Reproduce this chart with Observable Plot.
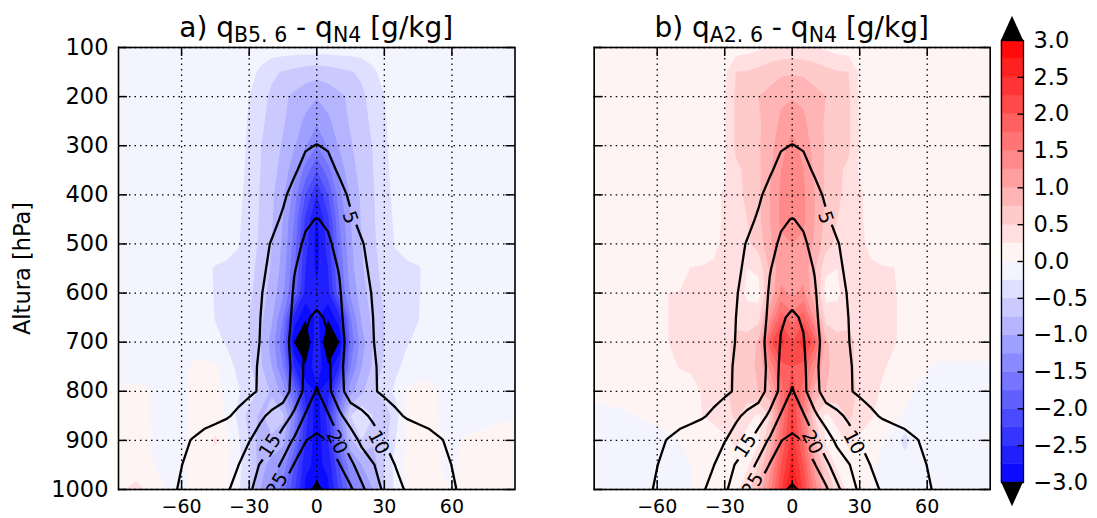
<!DOCTYPE html>
<html>
<head>
<meta charset="utf-8">
<script src="https://cdn.jsdelivr.net/npm/d3@7"></script>
<script src="https://cdn.jsdelivr.net/npm/@observablehq/plot@0.6"></script>
<style>
  body { margin: 0; background: #fff; }
  #fig { position: relative; width: 1097px; height: 518px; font-family: "DejaVu Sans", sans-serif; }
  #fig svg { position: absolute; top: 0; }
  .title { position: absolute; top: 10.7px; font-size: 28px; line-height: 33px; text-align: center; white-space: nowrap; color: #000; }
  .title sub { font-size: 20.5px; vertical-align: -5px; line-height: 0; }
</style>
</head>
<body>
<div id="fig">
  <div class="title" style="left:118px;width:396.5px">a) q<sub>B5. 6</sub> - q<sub>N4</sub> [g/kg]</div>
  <div class="title" style="left:593.7px;width:396px">b) q<sub>A2. 6</sub> - q<sub>N4</sub> [g/kg]</div>
</div>
<script>
// Grid: longitude offset from the centre (degrees) and pressure levels (hPa)
const lon = [-90,-85,-80,-75,-70,-65,-60,-55,-50,-45,-40,-35,-30,-25,-20,-15,-10,-5,0,5,10,15,20,25,30,35,40,45,50,55,60,65,70,75,80,85,90];
const plev = [100,150,200,250,300,350,400,450,500,550,600,650,700,750,800,850,900,950,1000];

// Specific humidity of the N4 run (g/kg), one row per pressure level
const qN4 = [
  [0.2,0.2,0.2,0.2,0.2,0.2,0.2,0.2,0.2,0.2,0.3,0.3,0.3,0.4,0.4,0.5,0.5,0.6, 0.6, 0.6,0.5,0.5,0.4,0.4,0.3,0.3,0.3,0.2,0.2,0.2,0.2,0.2,0.2,0.2,0.2,0.2,0.2],
  [0.3,0.3,0.3,0.3,0.3,0.3,0.3,0.3,0.3,0.4,0.4,0.5,0.6,0.7,0.8,0.9,1.0,1.1, 1.2, 1.1,1.0,0.9,0.8,0.7,0.6,0.5,0.4,0.4,0.3,0.3,0.3,0.3,0.3,0.3,0.3,0.3,0.3],
  [0.4,0.4,0.4,0.4,0.4,0.4,0.5,0.5,0.5,0.6,0.7,0.8,0.9,1.0,1.2,1.5,1.8,2.1, 2.2, 2.1,1.8,1.5,1.2,1.0,0.9,0.8,0.7,0.6,0.5,0.5,0.5,0.4,0.4,0.4,0.4,0.4,0.4],
  [0.5,0.5,0.5,0.5,0.6,0.6,0.6,0.7,0.7,0.8,0.9,1.0,1.2,1.4,1.7,2.1,2.7,3.3, 3.5, 3.3,2.7,2.1,1.7,1.4,1.2,1.0,0.9,0.8,0.7,0.7,0.6,0.6,0.6,0.5,0.5,0.5,0.5],
  [0.6,0.6,0.7,0.7,0.7,0.7,0.8,0.8,0.9,0.9,1.0,1.2,1.4,1.7,2.1,2.7,3.6,4.7, 5.1, 4.7,3.6,2.7,2.1,1.7,1.4,1.2,1.0,0.9,0.9,0.8,0.8,0.7,0.7,0.7,0.7,0.6,0.6],
  [0.8,0.8,0.8,0.9,0.9,0.9,1.0,1.0,1.1,1.2,1.3,1.5,1.7,2.1,2.6,3.4,4.6,6.0, 6.5, 6.0,4.6,3.4,2.6,2.1,1.7,1.5,1.3,1.2,1.1,1.0,1.0,0.9,0.9,0.9,0.8,0.8,0.8],
  [1.0,1.0,1.0,1.1,1.1,1.2,1.2,1.3,1.4,1.5,1.7,1.9,2.2,2.8,3.5,4.5,6.0,7.5, 8.0, 7.5,6.0,4.5,3.5,2.8,2.2,1.9,1.7,1.5,1.4,1.3,1.2,1.2,1.1,1.1,1.0,1.0,1.0],
  [1.1,1.2,1.2,1.3,1.3,1.4,1.5,1.6,1.7,1.8,2.0,2.2,2.6,3.3,4.2,5.4,7.6,9.6, 10.1, 9.6,7.6,5.4,4.2,3.3,2.6,2.2,2.0,1.8,1.7,1.6,1.5,1.4,1.3,1.3,1.2,1.2,1.1],
  [1.2,1.3,1.3,1.4,1.5,1.6,1.7,1.8,1.9,2.0,2.2,2.5,3.0,4.0,5.2,6.6,9.2,10.4, 11.0, 10.4,9.2,6.6,5.2,4.0,3.0,2.5,2.2,2.0,1.9,1.8,1.7,1.6,1.5,1.4,1.3,1.3,1.2],
  [1.4,1.4,1.5,1.6,1.7,1.8,1.9,2.0,2.1,2.3,2.5,2.8,3.3,4.4,5.6,7.0,9.8,11.3, 12.0, 11.3,9.8,7.0,5.6,4.4,3.3,2.8,2.5,2.3,2.1,2.0,1.9,1.8,1.7,1.6,1.5,1.4,1.4],
  [1.5,1.5,1.6,1.7,1.8,1.9,2.0,2.2,2.3,2.5,2.7,3.0,3.6,4.8,6.0,7.5,10.4,12.8, 13.5, 12.8,10.4,7.5,6.0,4.8,3.6,3.0,2.7,2.5,2.3,2.2,2.0,1.9,1.8,1.7,1.6,1.5,1.5],
  [1.6,1.7,1.8,1.9,2.0,2.1,2.2,2.4,2.5,2.7,2.9,3.2,3.8,5.0,6.3,8.0,10.8,14.5, 15.7, 14.5,10.8,8.0,6.3,5.0,3.8,3.2,2.9,2.7,2.5,2.4,2.2,2.1,2.0,1.9,1.8,1.7,1.6],
  [1.7,1.8,1.9,2.0,2.1,2.2,2.3,2.5,2.6,2.8,3.0,3.3,3.9,5.1,6.5,8.3,11.5,15.3, 17.0, 15.3,11.5,8.3,6.5,5.1,3.9,3.3,3.0,2.8,2.6,2.5,2.3,2.2,2.1,2.0,1.9,1.8,1.7],
  [1.8,1.9,2.0,2.1,2.2,2.3,2.4,2.6,2.7,2.9,3.1,3.5,4.1,5.4,6.6,8.0,11.0,16.0, 18.0, 16.0,11.0,8.0,6.6,5.4,4.1,3.5,3.1,2.9,2.7,2.6,2.4,2.3,2.2,2.1,2.0,1.9,1.8],
  [1.8,1.9,2.0,2.2,2.3,2.4,2.5,2.7,2.9,3.1,3.3,3.6,4.1,5.5,6.8,7.8,11.6,16.2, 20.5, 16.2,11.6,7.8,6.8,5.5,4.1,3.6,3.3,3.1,2.9,2.7,2.5,2.4,2.3,2.2,2.0,1.9,1.8],
  [1.9,2.0,2.2,2.4,2.6,2.8,3.0,3.3,3.6,4.0,4.6,5.7,7.8,9.2,11.0,12.5,16.0,20.5, 22.5, 20.5,16.0,12.5,11.0,9.2,7.8,5.7,4.6,4.0,3.6,3.3,3.0,2.8,2.6,2.4,2.2,2.0,1.9],
  [2.0,2.2,2.4,2.7,3.1,3.6,4.3,5.2,6.2,7.0,7.8,8.6,9.8,12.0,13.8,17.6,20.6,24.9, 26.0, 24.9,20.6,17.6,13.8,12.0,9.8,8.6,7.8,7.0,6.2,5.2,4.3,3.6,3.1,2.7,2.4,2.2,2.0],
  [2.2,2.4,2.7,3.1,3.5,4.1,4.95,6.0,6.9,7.7,8.6,9.8,13.0,15.3,18.0,20.9,25.3,26.2, 27.0, 26.2,25.3,20.9,18.0,15.3,13.0,9.8,8.6,7.7,6.9,6.0,4.95,4.1,3.5,3.1,2.7,2.4,2.2],
  [2.4,2.6,2.9,3.3,3.8,4.4,5.4,6.3,7.2,8.2,9.3,12.0,14.0,17.8,20.8,25.9,27.6,29.0, 30.8, 29.0,27.6,25.9,20.8,17.8,14.0,12.0,9.3,8.2,7.2,6.3,5.4,4.4,3.8,3.3,2.9,2.6,2.4]
];

// Difference B5.6 minus N4 (g/kg)
const diffB56 = [
  [-0.1,-0.1,-0.1,-0.1,-0.1,-0.1,-0.1,-0.1,-0.1,-0.1,-0.1,-0.1,-0.1,-0.1,-0.1,-0.1,-0.1,-0.1, -0.1, -0.1,-0.1,-0.1,-0.1,-0.1,-0.1,-0.1,-0.1,-0.1,-0.1,-0.1,-0.1,-0.1,-0.1,-0.1,-0.1,-0.1,-0.1],
  [-0.1,-0.1,-0.1,-0.1,-0.1,-0.1,-0.1,-0.1,-0.1,-0.1,-0.1,-0.1,-0.15,-0.3,-0.45,-0.52,-0.57,-0.62, -0.65, -0.62,-0.57,-0.52,-0.45,-0.3,-0.15,-0.1,-0.1,-0.1,-0.1,-0.1,-0.1,-0.1,-0.1,-0.1,-0.1,-0.1,-0.1],
  [-0.1,-0.1,-0.1,-0.1,-0.1,-0.1,-0.1,-0.1,-0.1,-0.1,-0.1,-0.12,-0.25,-0.4,-0.55,-0.7,-0.8,-0.9, -0.98, -0.9,-0.8,-0.7,-0.55,-0.4,-0.25,-0.12,-0.1,-0.1,-0.1,-0.1,-0.1,-0.1,-0.1,-0.1,-0.1,-0.1,-0.1],
  [-0.1,-0.1,-0.1,-0.1,-0.1,-0.1,-0.1,-0.1,-0.1,-0.1,-0.1,-0.13,-0.28,-0.45,-0.58,-0.72,-0.87,-1.05, -1.2, -1.05,-0.87,-0.72,-0.58,-0.45,-0.28,-0.13,-0.1,-0.1,-0.1,-0.1,-0.1,-0.1,-0.1,-0.1,-0.1,-0.1,-0.1],
  [-0.1,-0.1,-0.1,-0.1,-0.1,-0.1,-0.1,-0.1,-0.1,-0.1,-0.1,-0.14,-0.3,-0.49,-0.62,-0.78,-0.97,-1.22, -1.5, -1.22,-0.97,-0.78,-0.62,-0.49,-0.3,-0.14,-0.1,-0.1,-0.1,-0.1,-0.1,-0.1,-0.1,-0.1,-0.1,-0.1,-0.1],
  [-0.1,-0.1,-0.1,-0.1,-0.1,-0.1,-0.1,-0.1,-0.1,-0.1,-0.1,-0.15,-0.32,-0.5,-0.65,-0.85,-1.15,-1.6, -2.0, -1.6,-1.15,-0.85,-0.65,-0.5,-0.32,-0.15,-0.1,-0.1,-0.1,-0.1,-0.1,-0.1,-0.1,-0.1,-0.1,-0.1,-0.1],
  [-0.1,-0.1,-0.1,-0.1,-0.1,-0.1,-0.1,-0.1,-0.1,-0.1,-0.1,-0.18,-0.34,-0.52,-0.7,-0.95,-1.35,-2.0, -2.5, -2.0,-1.35,-0.95,-0.7,-0.52,-0.34,-0.18,-0.1,-0.1,-0.1,-0.1,-0.1,-0.1,-0.1,-0.1,-0.1,-0.1,-0.1],
  [-0.1,-0.1,-0.1,-0.1,-0.1,-0.1,-0.1,-0.1,-0.1,-0.1,-0.12,-0.21,-0.35,-0.53,-0.72,-1.0,-1.5,-2.3, -2.8, -2.3,-1.5,-1.0,-0.72,-0.53,-0.35,-0.21,-0.12,-0.1,-0.1,-0.1,-0.1,-0.1,-0.1,-0.1,-0.1,-0.1,-0.1],
  [-0.1,-0.1,-0.1,-0.1,-0.1,-0.1,-0.1,-0.1,-0.1,-0.1,-0.15,-0.23,-0.37,-0.55,-0.75,-1.05,-1.6,-2.4, -2.85, -2.4,-1.6,-1.05,-0.75,-0.55,-0.37,-0.23,-0.15,-0.1,-0.1,-0.1,-0.1,-0.1,-0.1,-0.1,-0.1,-0.1,-0.1],
  [-0.1,-0.1,-0.1,-0.1,-0.1,-0.1,-0.1,-0.1,-0.18,-0.27,-0.3,-0.33,-0.42,-0.58,-0.78,-1.1,-1.7,-2.5, -2.8, -2.5,-1.7,-1.1,-0.78,-0.58,-0.42,-0.33,-0.3,-0.27,-0.18,-0.1,-0.1,-0.1,-0.1,-0.1,-0.1,-0.1,-0.1],
  [-0.1,-0.1,-0.1,-0.1,-0.1,-0.1,-0.1,-0.1,-0.15,-0.27,-0.3,-0.35,-0.45,-0.62,-0.85,-1.2,-1.8,-2.6, -2.7, -2.6,-1.8,-1.2,-0.85,-0.62,-0.45,-0.35,-0.3,-0.27,-0.15,-0.1,-0.1,-0.1,-0.1,-0.1,-0.1,-0.1,-0.1],
  [-0.1,-0.1,-0.1,-0.1,-0.1,-0.1,-0.1,-0.1,-0.14,-0.26,-0.3,-0.38,-0.5,-0.68,-0.95,-1.5,-2.6,-2.95, -2.7, -2.95,-2.6,-1.5,-0.95,-0.68,-0.5,-0.38,-0.3,-0.26,-0.14,-0.1,-0.1,-0.1,-0.1,-0.1,-0.1,-0.1,-0.1],
  [-0.1,-0.1,-0.1,-0.1,-0.1,-0.1,-0.1,-0.1,-0.12,-0.2,-0.27,-0.35,-0.5,-0.75,-1.1,-1.7,-3.0,-3.4, -2.5, -3.4,-3.0,-1.7,-1.1,-0.75,-0.5,-0.35,-0.27,-0.2,-0.12,-0.1,-0.1,-0.1,-0.1,-0.1,-0.1,-0.1,-0.1],
  [-0.1,-0.1,-0.1,-0.1,-0.1,-0.1,-0.05,0.03,0.05,0.03,-0.15,-0.3,-0.45,-0.7,-1.0,-1.5,-2.5,-2.95, -2.6, -2.95,-2.5,-1.5,-1.0,-0.7,-0.45,-0.3,-0.18,-0.1,-0.08,-0.1,-0.1,-0.1,-0.1,-0.1,-0.1,-0.1,-0.1],
  [0.06,0.05,0.04,0.01,-0.08,-0.1,-0.05,0.05,0.08,0.07,-0.05,-0.22,-0.35,-0.55,-0.8,-1.1,-1.8,-2.6, -2.8, -2.6,-1.8,-1.1,-0.8,-0.55,-0.35,-0.2,0.03,0.07,0.06,-0.02,-0.1,-0.1,-0.1,-0.1,-0.1,-0.1,-0.1],
  [0.06,0.06,0.05,0.02,-0.08,-0.1,-0.05,0.05,0.08,0.07,-0.03,-0.3,-0.6,-0.8,-0.6,-0.7,-1.4,-2.4, -2.9, -2.4,-1.4,-0.5,-0.3,-0.5,-0.7,-0.35,0.03,0.08,0.07,-0.02,-0.1,-0.1,-0.1,-0.08,-0.05,-0.03,-0.02],
  [0.08,0.07,0.05,0.02,-0.05,-0.08,-0.05,0.05,0.1,0.3,0.05,-0.2,-0.5,-0.9,-0.8,-0.9,-1.6,-2.5, -2.9, -2.5,-1.6,-0.8,-0.5,-0.7,-0.6,-0.25,0.03,0.08,0.08,0.02,-0.05,0.02,0.06,0.08,0.1,0.1,0.1],
  [0.1,0.08,0.06,0.03,-0.03,-0.05,-0.03,0.05,0.1,0.1,0.04,-0.15,-0.45,-0.9,-1.1,-1.3,-2.0,-2.7, -2.8, -2.7,-2.0,-1.3,-1.0,-0.9,-0.5,-0.15,0.04,0.08,0.06,0.0,-0.03,0.04,0.08,0.1,0.12,0.12,0.12],
  [0.15,0.25,0.35,0.2,0.05,-0.03,-0.05,0.03,0.08,0.08,0.03,-0.2,-0.5,-1.0,-1.3,-1.6,-2.2,-2.8, -3.15, -2.8,-2.2,-1.6,-1.3,-1.0,-0.5,-0.2,0.03,0.08,0.08,0.05,-0.02,0.05,0.1,0.12,0.12,0.12,0.12]
];

// Difference A2.6 minus N4 (g/kg)
const diffA26 = [
  [0.1,0.1,0.1,0.1,0.1,0.1,0.1,0.1,0.1,0.1,0.1,0.1,0.1,0.12,0.15,0.2,0.27,0.3, 0.32, 0.3,0.27,0.2,0.15,0.12,0.1,0.1,0.1,0.1,0.1,0.1,0.1,0.1,0.1,0.1,0.1,0.1,0.1],
  [0.1,0.1,0.1,0.1,0.1,0.1,0.1,0.1,0.1,0.1,0.1,0.1,0.2,0.5,0.52,0.58,0.65,0.7, 0.72, 0.7,0.65,0.58,0.52,0.5,0.2,0.1,0.1,0.1,0.1,0.1,0.1,0.1,0.1,0.1,0.1,0.1,0.1],
  [0.1,0.1,0.1,0.1,0.1,0.1,0.1,0.1,0.1,0.1,0.1,0.1,0.22,0.55,0.62,0.75,0.82,0.95, 0.98, 0.95,0.82,0.75,0.62,0.55,0.22,0.1,0.1,0.1,0.1,0.1,0.1,0.1,0.1,0.1,0.1,0.1,0.1],
  [0.1,0.1,0.1,0.1,0.1,0.1,0.1,0.1,0.1,0.1,0.1,0.1,0.22,0.55,0.6,0.72,0.85,1.05, 1.15, 1.05,0.85,0.72,0.6,0.55,0.22,0.1,0.1,0.1,0.1,0.1,0.1,0.1,0.1,0.1,0.1,0.1,0.1],
  [0.1,0.1,0.1,0.1,0.1,0.1,0.1,0.1,0.1,0.1,0.1,0.1,0.23,0.55,0.6,0.72,0.9,1.15, 1.35, 1.15,0.9,0.72,0.6,0.55,0.23,0.1,0.1,0.1,0.1,0.1,0.1,0.1,0.1,0.1,0.1,0.1,0.1],
  [0.1,0.1,0.1,0.1,0.1,0.1,0.1,0.1,0.1,0.1,0.1,0.1,0.22,0.45,0.55,0.7,0.95,1.25, 1.45, 1.25,0.95,0.7,0.55,0.45,0.22,0.1,0.1,0.1,0.1,0.1,0.1,0.1,0.1,0.1,0.1,0.1,0.1],
  [0.1,0.1,0.1,0.1,0.1,0.1,0.1,0.1,0.1,0.1,0.1,0.18,0.28,0.42,0.55,0.7,1.0,1.3, 1.45, 1.3,1.0,0.7,0.55,0.42,0.28,0.18,0.1,0.1,0.1,0.1,0.1,0.1,0.1,0.1,0.1,0.1,0.1],
  [0.1,0.1,0.1,0.1,0.1,0.1,0.1,0.1,0.1,0.1,0.12,0.18,0.28,0.4,0.5,0.68,1.0,1.3, 1.4, 1.3,1.0,0.68,0.5,0.4,0.28,0.18,0.12,0.1,0.1,0.1,0.1,0.1,0.1,0.1,0.1,0.1,0.1],
  [0.1,0.1,0.1,0.1,0.1,0.1,0.1,0.1,0.1,0.1,0.12,0.2,0.3,0.38,0.45,0.6,0.95,1.2, 1.25, 1.2,0.95,0.6,0.45,0.38,0.3,0.2,0.12,0.1,0.1,0.1,0.1,0.1,0.1,0.1,0.1,0.1,0.1],
  [0.1,0.1,0.1,0.1,0.1,0.1,0.1,0.1,0.15,0.26,0.27,0.28,0.32,0.38,0.25,0.3,0.8,1.15, 1.15, 1.15,0.8,0.3,0.25,0.38,0.32,0.28,0.27,0.26,0.15,0.1,0.1,0.1,0.1,0.1,0.1,0.1,0.1],
  [0.1,0.1,0.1,0.1,0.1,0.1,0.15,0.25,0.26,0.27,0.28,0.3,0.33,0.38,0.2,0.15,0.8,1.3, 1.2, 1.3,0.8,0.15,0.2,0.38,0.33,0.3,0.28,0.27,0.2,0.12,0.1,0.1,0.1,0.1,0.1,0.1,0.1],
  [0.1,0.1,0.1,0.1,0.1,0.1,0.15,0.25,0.26,0.27,0.28,0.32,0.38,0.45,0.35,0.4,1.2,1.9, 1.6, 1.9,1.2,0.4,0.35,0.45,0.38,0.32,0.28,0.27,0.2,0.12,0.1,0.1,0.1,0.1,0.1,0.1,0.1],
  [0.1,0.1,0.1,0.1,0.1,0.1,0.15,0.25,0.26,0.27,0.3,0.35,0.45,0.55,0.6,0.8,1.9,2.4, 2.0, 2.4,1.9,0.8,0.6,0.55,0.45,0.35,0.3,0.27,0.2,0.12,0.1,0.1,0.1,0.1,0.1,0.1,0.1],
  [0.08,0.08,0.08,0.08,0.08,0.08,0.12,0.2,0.26,0.27,0.28,0.35,0.45,0.55,0.65,0.8,1.3,1.9, 2.0, 1.9,1.3,0.8,0.65,0.55,0.45,0.35,0.28,0.2,0.12,0.05,0.02,-0.03,-0.03,-0.03,-0.03,-0.03,-0.03],
  [0.05,0.05,0.05,0.05,0.05,0.04,0.05,0.08,0.12,0.2,0.26,0.32,0.45,0.6,0.65,0.75,0.9,1.6, 2.2, 1.6,0.9,0.75,0.65,0.6,0.45,0.32,0.22,0.12,0.05,-0.02,-0.05,-0.05,-0.05,-0.05,-0.05,-0.05,-0.05],
  [-0.05,-0.05,-0.03,-0.02,0.0,0.03,0.05,0.08,0.1,0.15,0.25,0.3,0.4,0.55,0.35,0.2,0.5,1.5, 2.3, 1.5,0.5,0.2,0.35,0.55,0.4,0.28,0.15,0.05,-0.02,-0.05,-0.08,-0.08,-0.08,-0.08,-0.08,-0.08,-0.08],
  [-0.08,-0.08,-0.08,-0.08,-0.08,-0.08,-0.05,-0.03,0.0,0.04,0.1,0.15,0.2,0.3,0.15,0.2,0.8,1.7, 2.4, 1.7,0.8,0.2,0.15,0.3,0.2,0.1,0.0,-0.1,-0.35,-0.12,-0.08,-0.08,-0.08,-0.08,-0.08,-0.08,-0.08],
  [-0.08,-0.08,-0.08,-0.08,-0.08,-0.08,-0.06,-0.05,-0.03,0.0,0.03,0.06,0.1,0.15,0.2,0.5,1.1,2.0, 2.6, 2.0,1.1,0.5,0.2,0.15,0.08,0.03,-0.03,-0.08,-0.12,-0.1,-0.08,-0.08,-0.08,-0.08,-0.08,-0.08,-0.08],
  [-0.08,-0.08,-0.08,-0.08,-0.08,-0.08,-0.06,-0.05,-0.03,0.0,0.03,0.05,0.08,0.2,0.4,0.8,1.4,2.2, 2.9, 2.2,1.4,0.8,0.4,0.2,0.08,0.02,-0.05,-0.1,-0.1,-0.1,-0.08,-0.08,-0.08,-0.08,-0.08,-0.08,-0.08]
];

// Contour levels
const fillLevels = [-3,-2.75,-2.5,-2.25,-2,-1.75,-1.5,-1.25,-1,-0.75,-0.5,-0.25,0,0.25,0.5,0.75,1,1.25,1.5,1.75,2,2.25,2.5,2.75,3];
const qLevels = [5, 10, 15, 20, 25, 30];

// Axis ticks
const lonTicks = [-60, -30, 0, 30, 60];
const presTicks = [100, 200, 300, 400, 500, 600, 700, 800, 900, 1000];
const barTicks = [-3, -2.5, -2, -1.5, -1, -0.5, 0, 0.5, 1, 1.5, 2, 2.5, 3];

// Inline labels of the N4 humidity contours
const labelLon = [14.8, 27.4, 8.9, -20.7, -17.5];
const labelPres = [446, 904, 904, 911, 990];
const labelText = ["5", "10", "20", "15", "25"];
const labelAngle = [71, 62, 63, -57, -60];

for (const [name, rows] of [["qN4", qN4], ["diffB56", diffB56], ["diffA26", diffA26]]) {
  if (rows.length !== plev.length) throw new Error(name + ": wrong number of rows");
  rows.forEach((r, j) => { if (r.length !== lon.length) throw new Error(name + " row " + plev[j] + ": " + r.length); });
}

// Blue-white-red colour map sampled at the middle of each band; black outside +-3
function bwr(t) {
  const c = t < 0.5 ? [2 * t, 2 * t, 1] : [1, 2 - 2 * t, 2 - 2 * t];
  return d3.rgb(c[0] * 255, c[1] * 255, c[2] * 255).formatHex();
}
const bandColors = fillLevels.slice(0, -1).map((lo, i) => bwr(((lo + fillLevels[i + 1]) / 2 + 3) / 6));
const colorOpts = {type: "threshold", domain: fillLevels, range: ["black", ...bandColors, "black"]};

const dLon = lon[1] - lon[0], dP = plev[1] - plev[0];
const gridBounds = {
  width: lon.length, height: plev.length,
  x1: lon[0] - dLon / 2, x2: lon[lon.length - 1] + dLon / 2,
  y1: plev[0] - dP / 2, y2: plev[plev.length - 1] + dP / 2
};

const minus = (s) => s.replace("-", "\u2212");
const fmtLon = (d) => minus(String(d));
const fmtBar = (d) => minus(d.toFixed(1));

const fig = document.getElementById("fig");
const TOP = 47, BOTTOM = 29, H = 518;

function panel(rows, {left, width, marginLeft, marginRight, showY, id}) {
  const fw = width - marginLeft - marginRight;
  const fh = H - TOP - BOTTOM;
  const rule = {stroke: "black", strokeWidth: 1.5};
  const svg = Plot.plot({
    width, height: H, marginLeft, marginRight, marginTop: TOP, marginBottom: BOTTOM,
    style: {fontFamily: "DejaVu Sans", background: "transparent", color: "black", overflow: "visible"},
    x: {domain: [-88, 88], axis: null},
    y: {domain: [100, 1000], reverse: true, axis: null},
    color: colorOpts,
    marks: [
      Plot.contour(rows.flat(), {...gridBounds, fill: Plot.identity, stroke: "none", thresholds: [-99, ...fillLevels], clip: true}),
      Plot.gridX(lonTicks, {stroke: "black", strokeOpacity: 1, strokeWidth: 1.3, strokeDasharray: "1.5,4"}),
      Plot.gridY(presTicks, {stroke: "black", strokeOpacity: 1, strokeWidth: 1.3, strokeDasharray: "1.5,4"}),
      Plot.contour(qN4.flat(), {...gridBounds, value: (d) => d, thresholds: qLevels, stroke: "black", strokeWidth: 2.3, fill: "none", clip: true}),
      Plot.text(labelText.map((_, i) => i), {
        x: (i) => labelLon[i], y: (i) => labelPres[i], text: (i) => labelText[i], rotate: (i) => labelAngle[i],
        fontSize: 19, fill: "black", clip: true
      }),
      Plot.tickX(lonTicks, {x: (d) => d, insetBottom: fh - 9, ...rule}),
      Plot.tickX(lonTicks, {x: (d) => d, insetTop: fh - 9, ...rule}),
      Plot.tickY(presTicks, {y: (d) => d, insetRight: fw - 9, ...rule}),
      Plot.tickY(presTicks, {y: (d) => d, insetLeft: fw - 9, ...rule}),
      Plot.frame({stroke: "black", strokeWidth: 1.6}),
      Plot.text(lonTicks, {x: (d) => d, frameAnchor: "bottom", lineAnchor: "top", dy: 10, text: fmtLon, fontSize: 19}),
      showY ? Plot.text(presTicks, {y: (d) => d, frameAnchor: "left", textAnchor: "end", dx: -10, text: (d) => String(d), fontSize: 22.5}) : null,
      showY ? Plot.text(["Altura [hPa]"], {frameAnchor: "left", textAnchor: "middle", dx: -95.5, rotate: -90, fontSize: 22.5}) : null
    ]
  });
  svg.style.left = left + "px";
  fig.appendChild(svg);

  // Break the humidity contour lines where their labels sit
  const sx = svg.scale("x"), sy = svg.scale("y");
  const groups = svg.querySelectorAll('g[aria-label="contour"]');
  const lines = groups[groups.length - 1];
  const mask = d3.select(svg).append("defs").append("mask")
    .attr("id", id).attr("maskUnits", "userSpaceOnUse")
    .attr("x", 0).attr("y", 0).attr("width", width).attr("height", H);
  mask.append("rect").attr("width", width).attr("height", H).attr("fill", "white");
  labelText.forEach((t, i) => {
    const bw = t.length * 12 + 7, bh = 18;
    mask.append("rect")
      .attr("x", -bw / 2).attr("y", -bh / 2).attr("width", bw).attr("height", bh).attr("fill", "black")
      .attr("transform", `translate(${sx.apply(labelLon[i])},${sy.apply(labelPres[i])}) rotate(${labelAngle[i]})`);
  });
  lines.setAttribute("mask", `url(#${id})`);
}

panel(diffB56, {left: 0, width: 540, marginLeft: 118, marginRight: 25.5, showY: true, id: "gap-a"});
panel(diffA26, {left: 540, width: 470, marginLeft: 53.7, marginRight: 20.3, showY: false, id: "gap-b"});

// Colour bar with black extension triangles
const barLo = fillLevels.slice(0, -1);
const barHi = fillLevels.slice(1);
const tip = 0.33;
const topTri = [{y: 3, a: 0, b: 1}, {y: 3 + tip, a: 0.5, b: 0.5}];
const botTri = [{y: -3, a: 0, b: 1}, {y: -3 - tip, a: 0.5, b: 0.5}];
const bar = Plot.plot({
  width: 102, height: H, marginLeft: 6, marginRight: 74, marginTop: 40, marginBottom: 36,
  style: {fontFamily: "DejaVu Sans", background: "transparent", color: "black", overflow: "visible"},
  x: {domain: [0, 1], axis: null},
  y: {domain: [-3, 3], axis: null},
  color: colorOpts,
  marks: [
    Plot.rect(barLo, {x1: 0, x2: 1, y1: (d) => d, y2: (d, i) => barHi[i], fill: (d) => d, stroke: (d) => d, strokeWidth: 0.5}),
    Plot.areaX(topTri, {y: "y", x1: "a", x2: "b", fill: "black"}),
    Plot.areaX(botTri, {y: "y", x1: "a", x2: "b", fill: "black"}),
    Plot.frame({stroke: "black", strokeWidth: 1.3}),
    Plot.tickY(barTicks, {y: (d) => d, insetLeft: 16.5, stroke: "black", strokeWidth: 1.4}),
    Plot.text(barTicks, {y: (d) => d, frameAnchor: "right", dx: 10, textAnchor: "start", text: fmtBar, fontSize: 22.5})
  ]
});
bar.style.left = "995px";
fig.appendChild(bar);
</script>
</body>
</html>
